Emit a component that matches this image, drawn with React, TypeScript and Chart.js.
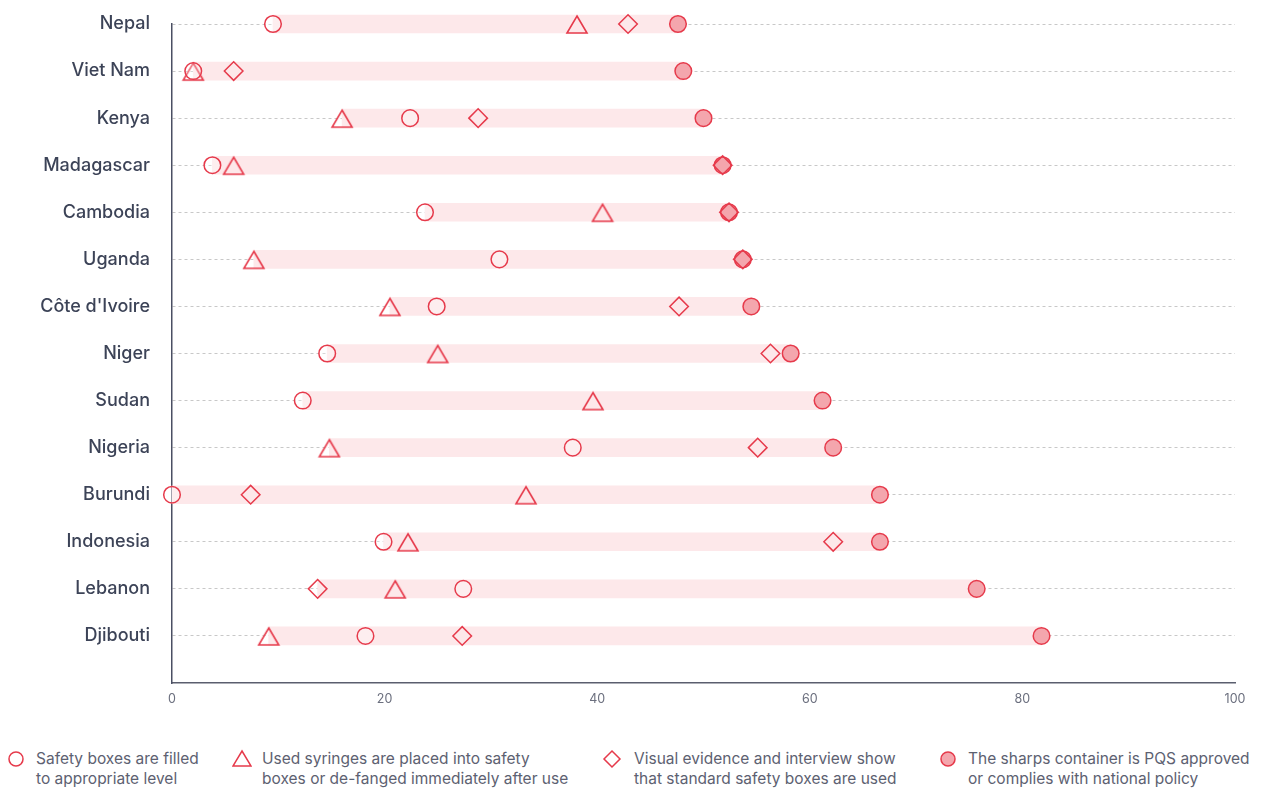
import React, { useEffect, useRef } from "react";
import { Chart, registerables } from "chart.js";

Chart.register(...registerables);

const countries = [
  "Nepal",
  "Viet Nam",
  "Kenya",
  "Madagascar",
  "Cambodia",
  "Uganda",
  "Côte d'Ivoire",
  "Niger",
  "Sudan",
  "Nigeria",
  "Burundi",
  "Indonesia",
  "Lebanon",
  "Djibouti",
];

const safetyBoxesFilled = [9.5, 2.0, 22.4, 3.8, 23.8, 30.8, 24.9, 14.6, 12.3, 37.7, 0, 19.9, 27.4, 18.2];
const syringesPlaced = [38.1, 2.0, 16.0, 5.8, 40.5, 7.7, 20.5, 25.0, 39.6, 14.8, 33.3, 22.2, 21.0, 9.1];
const standardBoxesUsed: (number | null)[] = [42.9, 5.8, 28.8, 51.8, 52.4, 53.7, 47.7, 56.3, null, 55.1, 7.4, 62.2, 13.7, 27.3];
const pqsApproved = [47.6, 48.1, 50.0, 51.8, 52.4, 53.7, 54.5, 58.2, 61.2, 62.2, 66.6, 66.6, 75.7, 81.8];

const xTicks = [0, 20, 40, 60, 80, 100];

const legendLabels = [
  ["Safety boxes are filled", "to appropriate level"],
  ["Used syringes are placed into safety", "boxes or de-fanged immediately after use"],
  ["Visual evidence and interview show", "that standard safety boxes are used"],
  ["The sharps container is PQS approved", "or complies with national policy"],
];

const RED = "#e63a4b";
const FILL = "#f4a6ad";
const BAR = "#fde8ea";

function makeTriangle(): HTMLCanvasElement {
  const c = document.createElement("canvas");
  c.width = 24;
  c.height = 24;
  const g = c.getContext("2d")!;
  g.strokeStyle = RED;
  g.lineWidth = 1.6;
  g.lineJoin = "miter";
  g.beginPath();
  g.moveTo(12, 4);
  g.lineTo(22, 21);
  g.lineTo(2, 21);
  g.closePath();
  g.stroke();
  return c;
}

function LegendMarker({ kind }: { kind: number }) {
  const common = { fill: "none", stroke: RED, strokeWidth: 1.5 } as any;
  let shape;
  if (kind === 0) shape = <circle cx={10} cy={10} r={7} {...common} />;
  else if (kind === 1) shape = <polygon points="10,2 19,17 1,17" {...common} />;
  else if (kind === 2) shape = <polygon points="10,2 18,10 10,18 2,10" {...common} />;
  else shape = <circle cx={10} cy={10} r={7} fill={FILL} stroke={RED} strokeWidth={1.5} />;
  return (
    <svg width={20} height={20} style={{ position: "absolute", left: -10, top: 0 }}>
      {shape}
    </svg>
  );
}

export default function App() {
  const ref = useRef<HTMLCanvasElement>(null);

  useEffect(() => {
    const ctx = ref.current!;
    const ranges = countries.map((_, i) => {
      const vals = [safetyBoxesFilled[i], syringesPlaced[i], standardBoxesUsed[i], pqsApproved[i]].filter(
        (v) => v !== null
      ) as number[];
      return [Math.min(...vals), Math.max(...vals)];
    });
    const tri = makeTriangle();
    const pointBase = {
      type: "line" as const,
      showLine: false,
      clip: false as any,
      pointBorderColor: RED,
      pointBorderWidth: 1.5,
      pointHoverRadius: 9,
    };
    const chart = new Chart(ctx, {
      type: "bar",
      data: {
        labels: [...countries, ""],
        datasets: [
          {
            ...pointBase,
            label: "Safety boxes are filled to appropriate level",
            data: safetyBoxesFilled,
            pointStyle: "circle",
            pointRadius: 8.3,
            pointBackgroundColor: "rgba(255,255,255,0.25)",
            order: 1,
          } as any,
          {
            ...pointBase,
            label: "Used syringes are placed into safety boxes",
            data: syringesPlaced,
            pointStyle: tri,
            pointRadius: 10,
            order: 2,
          } as any,
          {
            ...pointBase,
            label: "Visual evidence and interview show that standard safety boxes are used",
            data: standardBoxesUsed,
            pointStyle: "rectRot",
            pointRadius: 9.3,
            pointBackgroundColor: "rgba(255,255,255,0)",
            order: 3,
          } as any,
          {
            ...pointBase,
            label: "The sharps container is PQS approved",
            data: pqsApproved,
            pointStyle: "circle",
            pointRadius: 8.3,
            pointBackgroundColor: FILL,
            order: 4,
          } as any,
          {
            type: "bar",
            label: "range",
            data: ranges as any,
            backgroundColor: BAR,
            barThickness: 18,
            borderSkipped: false,
            clip: false as any,
            order: 10,
          } as any,
        ],
      },
      options: {
        indexAxis: "y",
        responsive: false,
        maintainAspectRatio: false,
        animation: false,
        events: [],
        layout: { padding: { top: 16, right: 20, bottom: 0, left: 0 } },
        plugins: { legend: { display: false }, tooltip: { enabled: false } },
        scales: {
          x: {
            type: "linear",
            min: 0,
            max: 100,
            afterBuildTicks: (scale: any) => {
              scale.ticks = xTicks.map((v) => ({ value: v }));
            },
            afterFit: (scale: any) => {
              scale.height = 45;
            },
            grid: { display: false, drawTicks: false },
            border: { display: true, color: "#5a5e6e", width: 1.5 },
            ticks: {
              padding: 9,
              color: "#6b6f7e",
              font: { family: "Inter", size: 12.5 },
            },
          },
          y: {
            type: "category",
            offset: false,
            afterFit: (scale: any) => {
              scale.width = 164;
            },
            grid: {
              offset: false,
              drawTicks: true,
              tickLength: 22,
              tickColor: "rgba(0,0,0,0)",
              color: (c: any) => (c.index >= countries.length ? "rgba(0,0,0,0)" : "#c8c8c8"),
              lineWidth: 1,
            },
            border: { display: true, color: "#4a4f63", width: 1.5, dash: [3, 3] },
            ticks: {
              padding: 0,
              color: "#3c4357",
              font: { family: "Inter", size: 18, weight: 500 as any },
              autoSkip: false,
            },
          },
        },
      },
    });
    return () => chart.destroy();
  }, []);

  const markerX = [16, 242, 612, 948];
  const textX = [36, 262, 634, 968];

  return (
    <div style={{ width: 1247, position: "relative" }}>
      <canvas ref={ref} width={1247} height={720} style={{ display: "block", width: 1247, height: 720 }} />
      <div style={{ position: "relative", height: 60, marginTop: 21 }}>
        {legendLabels.map((lines, i) => (
          <div key={i}>
            <div style={{ position: "absolute", left: markerX[i] - 8, top: 0 }}>
              <LegendMarker kind={i} />
            </div>
            <div
              style={{
                position: "absolute",
                left: textX[i] - 8,
                top: 0,
                fontFamily: "Inter",
                fontSize: 15.5,
                lineHeight: "20px",
                color: "#5d6171",
                whiteSpace: "nowrap",
              }}
            >
              {lines[0]}
              <br />
              {lines[1]}
            </div>
          </div>
        ))}
      </div>
    </div>
  );
}
